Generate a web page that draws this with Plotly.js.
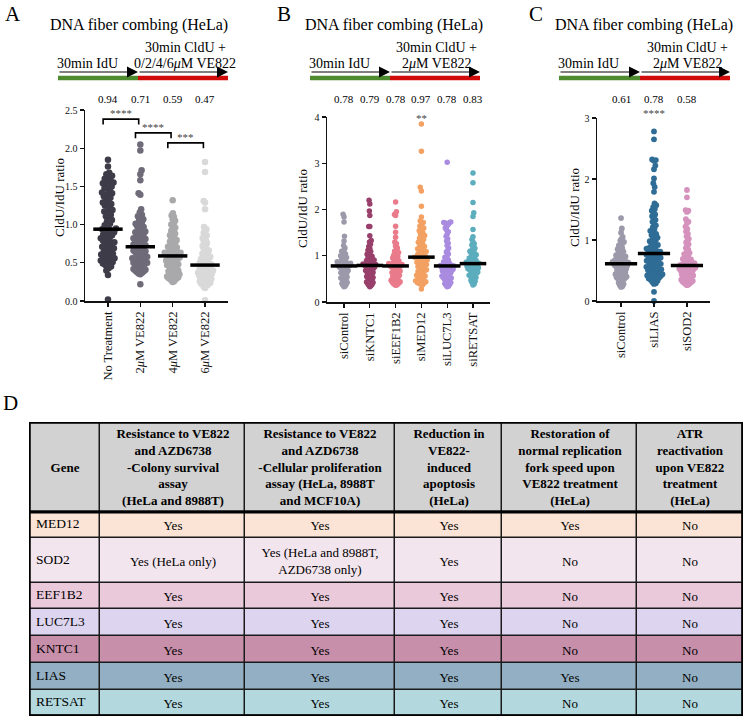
<!DOCTYPE html>
<html>
<head>
<meta charset="utf-8">
<script src="https://cdn.plot.ly/plotly-3.0.1.min.js"></script>
<style>
  html, body { margin: 0; padding: 0; background: #fff; }
  #plot { width: 747px; height: 718px; }
</style>
</head>
<body>
<div id="plot"></div>
<script>
// ---- panel A: VE822 dose series ----
const catsA = ['No Treatment', '2<i>μ</i>M VE822', '4<i>μ</i>M VE822', '6<i>μ</i>M VE822'];
const meansA = [0.94, 0.71, 0.59, 0.47];
const ratiosNoTreatment = [1.85, 1.76, 1.68, 1.66, 1.64, 1.61, 1.60, 1.58, 1.55, 1.55, 1.54, 1.52, 1.50, 1.48, 1.47,
  1.45, 1.42, 1.41, 1.40, 1.37, 1.35, 1.33, 1.31, 1.29, 1.27, 1.25, 1.24, 1.21, 1.19, 1.17, 1.15, 1.13, 1.11, 1.08,
  1.06, 1.04, 1.01, 0.99, 0.97, 0.95, 0.94, 0.93, 0.92, 0.90, 0.89, 0.87, 0.86, 0.84, 0.83, 0.82, 0.80, 0.79, 0.77,
  0.76, 0.75, 0.73, 0.72, 0.71, 0.69, 0.68, 0.66, 0.65, 0.64, 0.62, 0.61, 0.60, 0.58, 0.57, 0.56, 0.55, 0.53, 0.52,
  0.51, 0.50, 0.49, 0.47, 0.45, 0.43, 0.40, 0.34, 0.02];
const ratios2uM = [2.05, 1.97, 1.71, 1.66, 1.58, 1.41, 1.39, 1.20, 1.16, 1.13, 1.11, 1.09, 1.07, 1.05, 1.03, 1.01,
  1.00, 0.98, 0.97, 0.95, 0.94, 0.92, 0.91, 0.90, 0.88, 0.87, 0.86, 0.85, 0.84, 0.82, 0.81, 0.80, 0.79, 0.78, 0.77,
  0.76, 0.75, 0.74, 0.73, 0.72, 0.71, 0.70, 0.69, 0.68, 0.67, 0.66, 0.65, 0.64, 0.63, 0.62, 0.61, 0.60, 0.59, 0.58,
  0.57, 0.56, 0.56, 0.55, 0.54, 0.53, 0.52, 0.51, 0.50, 0.50, 0.49, 0.48, 0.47, 0.46, 0.45, 0.44, 0.43, 0.42, 0.41,
  0.40, 0.39, 0.38, 0.37, 0.36, 0.35, 0.22];
const ratios4uM = [1.32, 1.15, 1.12, 1.10, 1.07, 1.05, 1.02, 1.00, 0.98, 0.96, 0.94, 0.92, 0.90, 0.88, 0.86, 0.84,
  0.83, 0.81, 0.80, 0.78, 0.77, 0.75, 0.74, 0.73, 0.71, 0.70, 0.69, 0.68, 0.67, 0.66, 0.65, 0.64, 0.63, 0.63, 0.62,
  0.61, 0.61, 0.60, 0.60, 0.59, 0.58, 0.57, 0.57, 0.56, 0.55, 0.54, 0.53, 0.53, 0.52, 0.51, 0.50, 0.49, 0.48, 0.47,
  0.47, 0.46, 0.45, 0.44, 0.43, 0.42, 0.41, 0.40, 0.39, 0.38, 0.37, 0.36, 0.35, 0.34, 0.33, 0.32, 0.31, 0.30, 0.29,
  0.28, 0.27, 0.26, 0.25, 0.30, 0.35];
const ratios6uM = [1.82, 1.69, 1.31, 1.29, 1.20, 0.97, 0.94, 0.92, 0.89, 0.86, 0.84, 0.82, 0.80, 0.78, 0.76, 0.74,
  0.72, 0.70, 0.68, 0.66, 0.65, 0.63, 0.62, 0.60, 0.59, 0.58, 0.57, 0.56, 0.55, 0.54, 0.53, 0.52, 0.51, 0.50, 0.49,
  0.48, 0.48, 0.47, 0.46, 0.45, 0.44, 0.43, 0.42, 0.42, 0.41, 0.40, 0.39, 0.38, 0.37, 0.37, 0.36, 0.35, 0.34, 0.33,
  0.32, 0.31, 0.30, 0.29, 0.28, 0.27, 0.26, 0.25, 0.24, 0.23, 0.22, 0.21, 0.20, 0.19, 0.33, 0.29, 0.24, 0.36, 0.40,
  0.17, 0.01];
const sigPairsA = [[0, 1], [1, 2], [2, 3]];
const sigLevelsA = [2.38, 2.20, 2.07];
const sigLabelsA = ['****', '****', '***'];

// ---- panel B: siRNA screen hits ----
const catsB = ['siControl', 'siKNTC1', 'siEEF1B2', 'siMED12', 'siLUC7L3', 'siRETSAT'];
const meansB = [0.78, 0.79, 0.78, 0.97, 0.78, 0.83];
const ratiosBControl = [1.90, 1.84, 1.73, 1.42, 1.32, 1.22, 1.17, 1.12, 1.10, 1.07, 1.04, 1.02, 1.00, 0.98, 0.96,
  0.94, 0.92, 0.90, 0.89, 0.87, 0.86, 0.85, 0.84, 0.83, 0.82, 0.81, 0.80, 0.80, 0.79, 0.79, 0.78, 0.77, 0.76, 0.75,
  0.74, 0.73, 0.72, 0.70, 0.69, 0.68, 0.66, 0.65, 0.63, 0.62, 0.60, 0.59, 0.57, 0.56, 0.54, 0.52, 0.51, 0.49, 0.47,
  0.46, 0.44, 0.42, 0.40, 0.38, 0.36, 0.34, 0.33];
const ratiosKNTC1 = [2.20, 2.12, 1.97, 1.87, 1.63, 1.63, 1.43, 1.33, 1.30, 1.25, 1.20, 1.16, 1.12, 1.09, 1.06, 1.03,
  1.01, 0.99, 0.97, 0.95, 0.93, 0.91, 0.90, 0.88, 0.87, 0.86, 0.84, 0.83, 0.82, 0.81, 0.80, 0.80, 0.79, 0.78, 0.77,
  0.76, 0.75, 0.74, 0.73, 0.72, 0.71, 0.70, 0.68, 0.67, 0.66, 0.64, 0.63, 0.61, 0.60, 0.58, 0.57, 0.55, 0.53, 0.52,
  0.50, 0.48, 0.47, 0.45, 0.43, 0.42, 0.40, 0.38, 0.36, 0.35, 0.33];
const ratiosEEF1B2 = [2.16, 1.95, 1.89, 1.87, 1.64, 1.51, 1.40, 1.30, 1.26, 1.21, 1.17, 1.13, 1.10, 1.07, 1.04, 1.01,
  0.99, 0.97, 0.95, 0.93, 0.91, 0.89, 0.88, 0.86, 0.85, 0.83, 0.82, 0.81, 0.80, 0.79, 0.79, 0.78, 0.77, 0.76, 0.75,
  0.74, 0.73, 0.71, 0.70, 0.69, 0.67, 0.66, 0.64, 0.63, 0.61, 0.60, 0.58, 0.57, 0.55, 0.54, 0.52, 0.50, 0.49, 0.47,
  0.46, 0.44, 0.43, 0.41, 0.40, 0.39, 0.38, 0.37, 0.36];
const ratiosMED12 = [3.85, 3.26, 2.48, 2.40, 2.07, 1.84, 1.75, 1.72, 1.68, 1.64, 1.60, 1.57, 1.54, 1.51, 1.47, 1.44,
  1.41, 1.38, 1.35, 1.32, 1.29, 1.26, 1.23, 1.20, 1.18, 1.15, 1.13, 1.11, 1.09, 1.07, 1.05, 1.03, 1.01, 0.99, 0.98,
  0.97, 0.96, 0.94, 0.93, 0.91, 0.90, 0.88, 0.86, 0.85, 0.83, 0.81, 0.79, 0.77, 0.76, 0.74, 0.72, 0.70, 0.68, 0.66,
  0.64, 0.62, 0.60, 0.58, 0.56, 0.54, 0.52, 0.50, 0.48, 0.46, 0.44, 0.42, 0.41, 0.40, 0.39, 0.37, 0.28];
const ratiosLUC7L3 = [3.02, 1.73, 1.72, 1.72, 1.71, 1.70, 1.68, 1.65, 1.60, 1.56, 1.52, 1.47, 1.42, 1.37, 1.32, 1.27,
  1.22, 1.17, 1.12, 1.08, 1.04, 1.00, 0.97, 0.94, 0.91, 0.89, 0.87, 0.85, 0.83, 0.82, 0.80, 0.79, 0.79, 0.78, 0.77,
  0.76, 0.75, 0.74, 0.73, 0.72, 0.71, 0.70, 0.69, 0.68, 0.67, 0.66, 0.65, 0.63, 0.62, 0.61, 0.59, 0.58, 0.56, 0.55,
  0.53, 0.52, 0.50, 0.49, 0.47, 0.46, 0.44, 0.42, 0.40, 0.38, 0.36, 0.34, 0.33];
const ratiosRETSAT = [2.79, 2.58, 2.15, 1.93, 1.85, 1.57, 1.41, 1.35, 1.30, 1.26, 1.23, 1.19, 1.16, 1.13, 1.10, 1.08,
  1.06, 1.04, 1.02, 1.00, 0.98, 0.96, 0.95, 0.93, 0.92, 0.90, 0.89, 0.88, 0.87, 0.86, 0.85, 0.84, 0.83, 0.82, 0.81,
  0.80, 0.79, 0.78, 0.77, 0.76, 0.75, 0.74, 0.73, 0.72, 0.71, 0.70, 0.69, 0.68, 0.66, 0.65, 0.64, 0.62, 0.61, 0.59,
  0.58, 0.56, 0.55, 0.53, 0.51, 0.49, 0.47, 0.45, 0.42, 0.39, 0.37];
const sigLabelsB = ['', '', '', '**', '', ''];

// ---- panel C ----
const catsC = ['siControl', 'siLIAS', 'siSOD2'];
const meansC = [0.61, 0.78, 0.58];
const ratiosCControl = [1.36, 1.19, 1.12, 1.05, 1.02, 0.99, 0.97, 0.95, 0.93, 0.91, 0.89, 0.87, 0.85, 0.83, 0.81,
  0.80, 0.78, 0.77, 0.75, 0.74, 0.73, 0.72, 0.71, 0.70, 0.69, 0.68, 0.67, 0.66, 0.65, 0.64, 0.64, 0.63, 0.63, 0.62,
  0.62, 0.61, 0.60, 0.60, 0.59, 0.58, 0.58, 0.57, 0.56, 0.55, 0.54, 0.53, 0.52, 0.51, 0.50, 0.49, 0.48, 0.47, 0.46,
  0.45, 0.44, 0.43, 0.42, 0.41, 0.40, 0.39, 0.38, 0.37, 0.36, 0.35, 0.34, 0.32, 0.30, 0.28, 0.26, 0.24, 0.23];
const ratiosLIAS = [2.78, 2.65, 2.32, 2.31, 2.30, 2.22, 2.16, 2.01, 1.93, 1.87, 1.79, 1.60, 1.57, 1.54, 1.51, 1.48,
  1.45, 1.42, 1.39, 1.36, 1.33, 1.30, 1.27, 1.24, 1.21, 1.18, 1.15, 1.12, 1.10, 1.08, 1.06, 1.04, 1.02, 1.00, 0.98,
  0.96, 0.94, 0.92, 0.91, 0.89, 0.88, 0.86, 0.85, 0.84, 0.83, 0.82, 0.81, 0.80, 0.79, 0.78, 0.77, 0.76, 0.75, 0.74,
  0.73, 0.72, 0.71, 0.70, 0.69, 0.68, 0.67, 0.66, 0.65, 0.64, 0.63, 0.62, 0.61, 0.60, 0.59, 0.58, 0.57, 0.56, 0.55,
  0.54, 0.53, 0.52, 0.51, 0.50, 0.49, 0.48, 0.47, 0.46, 0.45, 0.44, 0.43, 0.42, 0.41, 0.40, 0.39, 0.38, 0.37, 0.36,
  0.35, 0.33, 0.31, 0.29, 0.28, 0.15, 0.00];
const ratiosSOD2 = [1.82, 1.70, 1.49, 1.48, 1.46, 1.34, 1.30, 1.28, 1.22, 1.18, 1.14, 1.10, 1.06, 1.02, 0.99, 0.96,
  0.93, 0.90, 0.87, 0.84, 0.81, 0.79, 0.77, 0.75, 0.73, 0.71, 0.69, 0.68, 0.66, 0.65, 0.64, 0.63, 0.62, 0.61, 0.60,
  0.59, 0.58, 0.57, 0.57, 0.56, 0.55, 0.55, 0.54, 0.53, 0.53, 0.52, 0.51, 0.50, 0.50, 0.49, 0.48, 0.47, 0.46, 0.45,
  0.44, 0.43, 0.42, 0.41, 0.40, 0.39, 0.38, 0.37, 0.36, 0.35, 0.34, 0.33, 0.32, 0.31, 0.30, 0.29, 0.28, 0.27, 0.26];
const sigLabelsC = ['', '****', ''];

// ---- panel D: summary table ----
const tableGenes = ['MED12', 'SOD2', 'EEF1B2', 'LUC7L3', 'KNTC1', 'LIAS', 'RETSAT'];
const tableHeader = ['Gene',
  'Resistance to VE822<br>and AZD6738<br>-Colony survival<br>assay<br>(HeLa and 8988T)',
  'Resistance to VE822<br>and AZD6738<br>-Cellular proliferation<br>assay (HeLa, 8988T<br>and MCF10A)',
  'Reduction in<br>VE822-<br>induced<br>apoptosis<br>(HeLa)',
  'Restoration of<br>normal replication<br>fork speed upon<br>VE822 treatment<br>(HeLa)',
  'ATR<br>reactivation<br>upon VE822<br>treatment<br>(HeLa)'];
const colColony = ['Yes', 'Yes (HeLa only)', 'Yes', 'Yes', 'Yes', 'Yes', 'Yes'];
const colProlif = ['Yes', 'Yes (HeLa and 8988T,<br>AZD6738 only)', 'Yes', 'Yes', 'Yes', 'Yes', 'Yes'];
const colApoptosis = ['Yes', 'Yes', 'Yes', 'Yes', 'Yes', 'Yes', 'Yes'];
const colForkSpeed = ['Yes', 'No', 'No', 'No', 'No', 'Yes', 'No'];
const colATR = ['No', 'No', 'No', 'No', 'No', 'No', 'No'];

// styles
const colorsA = ['#3d3c48', '#6f6b79', '#a9a9ab', '#d9d9d9'];
const colorsB = ['#9c99aa', '#98406b', '#e97b8b', '#f3a163', '#a98be0', '#5cadbd'];
const colorsC = ['#9c99aa', '#2f6d96', '#d592bd'];
const rowFills = ['#d2d2d2', '#fbe4d5', '#f3e5ee', '#e9c9da', '#ddd5ef', '#c78faa', '#92afc3', '#b3d8de'];
const colWidths = [71, 145, 150, 107, 135, 106];
const rowHeights = [90, 26, 45, 26, 27, 27, 27, 26];

const W = 747, H = 718;
const FONT = 'Liberation Serif';
const px = x => x / W;
const py = y => 1 - y / H;

// simple beeswarm, then squeezed into the column width like the dot plot software does
function swarm(values, pxX, pxY, diam, halfW) {
  const order = values.map((v, i) => i).sort((a, b) => values[a] - values[b]);
  const placed = [];
  const offs = new Array(values.length).fill(0);
  const minD = diam * 0.9;
  order.forEach((i, n) => {
    const y = values[i] * pxY;
    const side = n % 2 ? 1 : -1;
    for (let k = 0; k < 400; k++) {
      const dx = (k % 2 ? side : -side) * Math.ceil(k / 2) * 0.5;
      const hit = placed.some(p => {
        const dy = Math.abs(p.y - y);
        if (dy >= minD) return false;
        return Math.abs(p.x - dx) < Math.sqrt(minD * minD - dy * dy);
      });
      if (!hit) {
        offs[i] = dx;
        placed.push({x: dx, y});
        break;
      }
    }
  });
  const widest = Math.max(...offs.map(Math.abs));
  const squeeze = widest > halfW ? halfW / widest : 1;
  return offs.map(o => o * squeeze / pxX);
}

function note(text, x, y, size, extra) {
  return Object.assign({text, xref: 'paper', yref: 'paper', x, y, xanchor: 'center', yanchor: 'middle',
    showarrow: false, font: {family: FONT, size, color: '#000'}}, extra || {});
}

const panels = [
  {letter: 'A', ax: '', cats: catsA, colors: colorsA, means: meansA,
    groups: [ratiosNoTreatment, ratios2uM, ratios4uM, ratios6uM],
    box: [85, 228, 110, 301], range: [-0.71, 3.71], yMax: 2.5, dtick: 0.5, fmt: '.1f',
    diam: 6.5, halfW: 8, bar: 21, titleX: 139, letterX: 13, arrow: [58, 138, 228], ytitle: [59, 198],
    treatment: '0/2/4/6<i>μ</i>M VE822', stars: null},
  {letter: 'B', ax: '2', cats: catsB, colors: colorsB, means: meansB,
    groups: [ratiosBControl, ratiosKNTC1, ratiosEEF1B2, ratiosMED12, ratiosLUC7L3, ratiosRETSAT],
    box: [327, 490, 117, 302], range: [-0.66, 5.66], yMax: 4, dtick: 1, fmt: 'd',
    diam: 5.5, halfW: 6.8, bar: 19, titleX: 394, letterX: 284, arrow: [310, 390, 480], ytitle: [302, 209],
    treatment: '2<i>μ</i>M VE822', stars: sigLabelsB, starY: 115},
  {letter: 'C', ax: '3', cats: catsC, colors: colorsC, means: meansC,
    groups: [ratiosCControl, ratiosLIAS, ratiosSOD2],
    box: [597, 710, 118, 301], range: [-0.73, 2.7], yMax: 3, dtick: 1, fmt: 'd',
    diam: 5.8, halfW: 8.5, bar: 23, titleX: 644, letterX: 536, arrow: [559, 640, 730], ytitle: [574, 208],
    treatment: '2<i>μ</i>M VE822', stars: sigLabelsC, starY: 110}
];

const data = [];
const annotations = [];
const shapes = [];
const layout = {
  width: W, height: H,
  margin: {l: 0, r: 0, t: 0, b: 0},
  paper_bgcolor: '#fff', plot_bgcolor: '#fff',
  showlegend: false,
  font: {family: FONT, color: '#111', size: 11}
};

panels.forEach(p => {
  const xName = 'x' + p.ax, yName = 'y' + p.ax;
  const pxX = (p.box[1] - p.box[0]) / (p.range[1] - p.range[0]);
  const pxY = (p.box[3] - p.box[2]) / p.yMax;

  p.groups.forEach((vals, i) => {
    const offs = swarm(vals, pxX, pxY, p.diam, p.halfW);
    data.push({
      type: 'scatter', mode: 'markers', xaxis: xName, yaxis: yName,
      x: offs.map(o => i + o), y: vals,
      marker: {color: p.colors[i], size: p.diam, line: {width: 0}},
      cliponaxis: false, hoverinfo: 'skip'
    });
  });
  data.push({
    type: 'scatter', mode: 'markers', xaxis: xName, yaxis: yName,
    x: p.means.map((m, i) => i), y: p.means,
    marker: {symbol: 'line-ew', size: p.bar, line: {width: 3.5, color: '#000'}},
    cliponaxis: false, hoverinfo: 'skip'
  });

  layout['xaxis' + p.ax] = {
    domain: [px(p.box[0]), px(p.box[1])], anchor: yName, range: p.range,
    tickvals: p.cats.map((c, i) => i), ticktext: p.cats, tickangle: -90,
    tickfont: {family: FONT, size: 12.5, color: '#111'},
    showline: true, linecolor: '#111', linewidth: 1.5, ticks: 'outside', ticklen: 4, tickwidth: 1.2,
    tickcolor: '#111', showgrid: false, zeroline: false, fixedrange: true
  };
  layout['yaxis' + p.ax] = {
    domain: [py(p.box[3]), py(p.box[2])], anchor: xName, range: [0, p.yMax],
    dtick: p.dtick, tickformat: p.fmt, tickfont: {family: FONT, size: 10, color: '#111'},
    showline: true, linecolor: '#111', linewidth: 1.5, ticks: 'outside', ticklen: 4, tickwidth: 1.2,
    tickcolor: '#111', showgrid: false, zeroline: false, fixedrange: true
  };

  // labels round the plot
  const mid1 = (p.arrow[0] + p.arrow[1]) / 2, mid2 = (p.arrow[1] + p.arrow[2]) / 2;
  annotations.push(
    note(p.letter, px(p.letterX), py(14), 21),
    note('DNA fiber combing (HeLa)', px(p.titleX), py(25), 16),
    note('CldU/IdU ratio', px(p.ytitle[0]), py(p.ytitle[1]), 13, {textangle: -90}),
    note('30min IdU', px(mid1 - 11), py(63), 14),
    note('30min CldU +', px(mid2 + 2), py(48), 14),
    note(p.treatment, px(mid2 + 2), py(64), 14)
  );
  // thin arrows with heads, above the coloured bars
  [[p.arrow[0], p.arrow[1]], [p.arrow[1], p.arrow[2]]].forEach(seg => {
    annotations.push({
      text: '', xref: 'paper', yref: 'paper', x: px(seg[1]), y: py(72), ax: seg[0] - seg[1], ay: 0,
      showarrow: true, arrowhead: 2, arrowsize: 2.2, arrowwidth: 1, arrowcolor: '#000', standoff: 0
    });
  });
  shapes.push(
    {type: 'line', xref: 'paper', yref: 'paper', x0: px(p.arrow[0]), x1: px(p.arrow[1]), y0: py(78), y1: py(78),
      line: {color: '#4e8b2f', width: 4.5}},
    {type: 'line', xref: 'paper', yref: 'paper', x0: px(p.arrow[1]), x1: px(p.arrow[2]), y0: py(78), y1: py(78),
      line: {color: '#d10a0a', width: 4.5}}
  );

  p.means.forEach((m, i) => {
    annotations.push(note(m.toFixed(2), i, py(99), 11, {xref: xName}));
  });
  if (p.stars) {
    p.stars.forEach((s, i) => {
      if (!s) return;
      annotations.push(note(s, i, py(p.starY + 3), 11, {xref: xName, font: {family: FONT, size: 11, color: '#444'}}));
    });
  }
});

// significance brackets for panel A
sigPairsA.forEach((pair, k) => {
  const h = sigLevelsA[k];
  const x0 = pair[0] - 0.15, x1 = pair[1] - 0.05;
  data.push({
    type: 'scatter', mode: 'lines', xaxis: 'x', yaxis: 'y',
    x: [x0, x0, x1, x1], y: [h - 0.07, h, h, h - 0.07],
    line: {color: '#000', width: 1.6}, cliponaxis: false, hoverinfo: 'skip'
  });
  annotations.push({text: sigLabelsA[k], xref: 'x', yref: 'y', x: (x0 + x1) / 2, y: h, xanchor: 'center',
    yanchor: 'bottom', yshift: -2, showarrow: false, font: {family: FONT, size: 11, color: '#444'}});
});

// ---- table as a heatmap of row colours with text ----
const xEdges = [0];
colWidths.forEach(w => xEdges.push(xEdges[xEdges.length - 1] + w));
const yEdges = [0];
rowHeights.forEach(h => yEdges.push(yEdges[yEdges.length - 1] + h));
const tableW = xEdges[xEdges.length - 1], tableH = yEdges[yEdges.length - 1];

const bodyCols = [colColony, colProlif, colApoptosis, colForkSpeed, colATR];
const headerBold = tableHeader.map(t => t.split('<br>').map(s => '<b>' + s + '</b>').join('<br>'));
const cellText = [headerBold].concat(tableGenes.map((g, r) => [''].concat(bodyCols.map(c => c[r]))));
const cellZ = cellText.map((row, r) => row.map(() => r));

data.push({
  type: 'heatmap', xaxis: 'x4', yaxis: 'y4', x: xEdges, y: yEdges, z: cellZ,
  zmin: 0, zmax: rowFills.length - 1,
  colorscale: rowFills.map((c, i) => [i / (rowFills.length - 1), c]),
  showscale: false, xgap: 1.5, ygap: 1.5, hoverinfo: 'skip',
  text: cellText, texttemplate: '%{text}',
  textfont: {family: FONT, size: 13, color: '#000'}
});
data.push({
  type: 'scatter', mode: 'text', xaxis: 'x4', yaxis: 'y4',
  x: tableGenes.map(() => 7), y: tableGenes.map((g, r) => (yEdges[r + 1] + yEdges[r + 2]) / 2),
  text: tableGenes, textposition: 'middle right',
  textfont: {family: FONT, size: 13.5, color: '#000'}, cliponaxis: false, hoverinfo: 'skip'
});
layout.xaxis4 = {domain: [px(29), px(743)], anchor: 'y4', range: [0, tableW], visible: false, fixedrange: true};
layout.yaxis4 = {domain: [py(716), py(422)], anchor: 'x4', range: [tableH, 0], visible: false, fixedrange: true};

shapes.push(
  {type: 'rect', xref: 'x4', yref: 'y4', x0: 0, x1: tableW, y0: 0, y1: tableH, layer: 'below',
    fillcolor: '#1a1a1a', line: {width: 0}},
  {type: 'rect', xref: 'x4', yref: 'y4', x0: 0, x1: tableW, y0: 0, y1: tableH,
    line: {color: '#000', width: 3.5}},
  {type: 'line', xref: 'x4', yref: 'y4', x0: 0, x1: tableW, y0: rowHeights[0], y1: rowHeights[0],
    line: {color: '#000', width: 3}}
);
annotations.push(note('D', px(10), py(403), 21));

layout.annotations = annotations;
layout.shapes = shapes;

Plotly.newPlot('plot', data, layout, {displayModeBar: false, staticPlot: true});
</script>
</body>
</html>
